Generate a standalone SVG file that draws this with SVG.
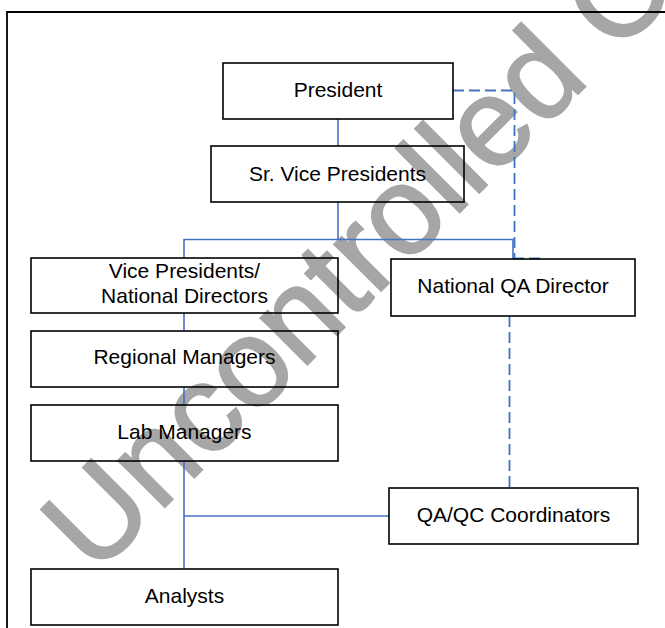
<svg xmlns="http://www.w3.org/2000/svg" width="665" height="628" viewBox="0 0 665 628">
  <style>
    .box { fill: none; stroke: #000; stroke-width: 1.6; }
    .lbl { font-family: "Liberation Sans", Arial, sans-serif; font-size: 21px; fill: #000; text-anchor: middle; }
    .solid { fill: none; stroke: #4472C4; stroke-width: 1.6; }
    .dash { fill: none; stroke: #4472C4; stroke-width: 1.8; stroke-dasharray: 11 5; }
    .wm { font-family: "Liberation Sans", Arial, sans-serif; font-size: 125px; fill: #a6a6a6; stroke: #a6a6a6; stroke-width: 2; }
  </style>
  <rect width="665" height="628" fill="#fff"/>
  <text class="wm" transform="translate(95,577) rotate(-45)">Uncontrolled Copy</text>
  <path d="M7,628 V12 H665" fill="none" stroke="#000" stroke-width="1.8"/>
  <g id="connectors">
    <path class="solid" d="M338,119 V146"/>
    <path class="solid" d="M338,202 V239.5"/>
    <path class="solid" d="M184,258 V239.5 H513 V259"/>
    <path class="solid" d="M184,313 V331"/>
    <path class="solid" d="M184,387 V405"/>
    <path class="solid" d="M184,461 V569"/>
    <path class="solid" d="M184,516 H389"/>
    <path class="dash" d="M453,90.5 H514.5 V258.5"/>
    <path class="dash" d="M513,258.5 H545"/>
    <path class="dash" d="M509.5,316 V488"/>
  </g>
  <g id="president">
    <rect class="box" x="223" y="63" width="230" height="56"/>
    <text class="lbl" x="338" y="97">President</text>
  </g>
  <g id="sr-vice-presidents">
    <rect class="box" x="211" y="146" width="253" height="56"/>
    <text class="lbl" x="337.5" y="181">Sr. Vice Presidents</text>
  </g>
  <g id="vice-presidents">
    <rect class="box" x="31" y="258" width="307" height="55"/>
    <text class="lbl" x="184.5" y="278">Vice Presidents/</text>
    <text class="lbl" x="184.5" y="303">National Directors</text>
  </g>
  <g id="national-qa-director">
    <rect class="box" x="391" y="259" width="244" height="57"/>
    <text class="lbl" x="513" y="293">National QA Director</text>
  </g>
  <g id="regional-managers">
    <rect class="box" x="31" y="331" width="307" height="56"/>
    <text class="lbl" x="184.5" y="364">Regional Managers</text>
  </g>
  <g id="lab-managers">
    <rect class="box" x="31" y="405" width="307" height="56"/>
    <text class="lbl" x="184.5" y="438.5">Lab Managers</text>
  </g>
  <g id="qa-qc-coordinators">
    <rect class="box" x="389" y="488" width="249" height="56"/>
    <text class="lbl" x="513.5" y="522">QA/QC Coordinators</text>
  </g>
  <g id="analysts">
    <rect class="box" x="31" y="569" width="307" height="56"/>
    <text class="lbl" x="184.5" y="603">Analysts</text>
  </g>
</svg>
